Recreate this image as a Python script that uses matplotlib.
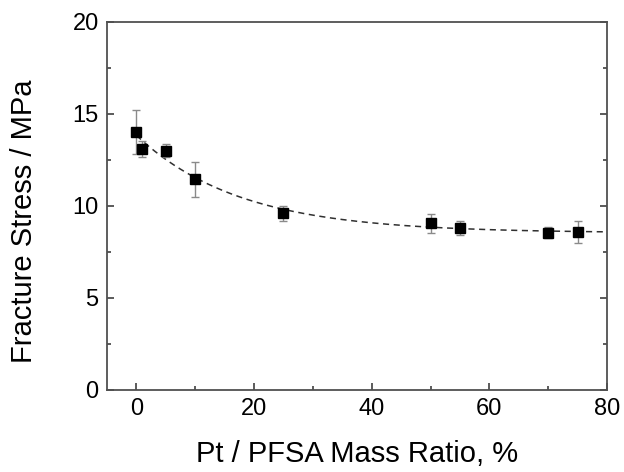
import numpy as np
import matplotlib
matplotlib.use("Agg")
import matplotlib.pyplot as plt
from matplotlib.ticker import MultipleLocator

plt.rcParams['font.family'] = ['Liberation Sans', 'DejaVu Sans']

ratio = [0, 1, 5, 10, 25, 50, 55, 70, 75]
stress = [14.0, 13.1, 13.0, 11.45, 9.6, 9.05, 8.8, 8.55, 8.6]
err = [1.2, 0.45, 0.35, 0.95, 0.4, 0.5, 0.4, 0.3, 0.6]

# exponential decay fit y = y0 + A*exp(-x/t), least squares over t grid
x = np.array(ratio, float)
y = np.array(stress, float)
best = None
for t in np.linspace(3, 60, 571):
    M = np.vstack([np.ones_like(x), np.exp(-x / t)]).T
    coef, res, *_ = np.linalg.lstsq(M, y, rcond=None)
    r = np.sum((M @ coef - y) ** 2)
    if best is None or r < best[0]:
        best = (r, t, coef)
_, tfit, (y0, A) = best
xf = np.linspace(0, 80, 300)
yf = y0 + A * np.exp(-xf / tfit)

fig = plt.figure(figsize=(6.24, 4.72), dpi=100)
ax = fig.add_axes([107/624, 1-390/472, 500/624, 368/472])

ax.plot(xf, yf, ls=(0, (4, 3)), color='#303030', lw=1.1, zorder=2)
ax.errorbar(ratio, stress, yerr=err, fmt='none', ecolor='#8a8a8a', elinewidth=1.0,
            capsize=3, capthick=1.0, zorder=3)
ax.plot(ratio, stress, 's', color='black', markersize=7, zorder=4)

ax.set_xlim(-5, 80)
ax.set_ylim(0, 20)
ax.xaxis.set_major_locator(MultipleLocator(20))
ax.xaxis.set_minor_locator(MultipleLocator(10))
ax.yaxis.set_major_locator(MultipleLocator(5))
ax.yaxis.set_minor_locator(MultipleLocator(2.5))
ax.tick_params(which='both', direction='in', right=True, top=False, colors='#404040',
               labelcolor='black', labelsize=17, width=1.2)
ax.tick_params(which='major', length=5, pad=6)
ax.tick_params(which='minor', length=3)
for s in ax.spines.values():
    s.set_color('#505050')
    s.set_linewidth(1.3)

ax.set_xlabel('Pt / PFSA Mass Ratio, %', fontsize=21, labelpad=14)
ax.set_ylabel('Fracture Stress / MPa', fontsize=21, labelpad=25)
ax.yaxis.label.set_y(0.459)

fig.savefig('out.png', dpi=100)
